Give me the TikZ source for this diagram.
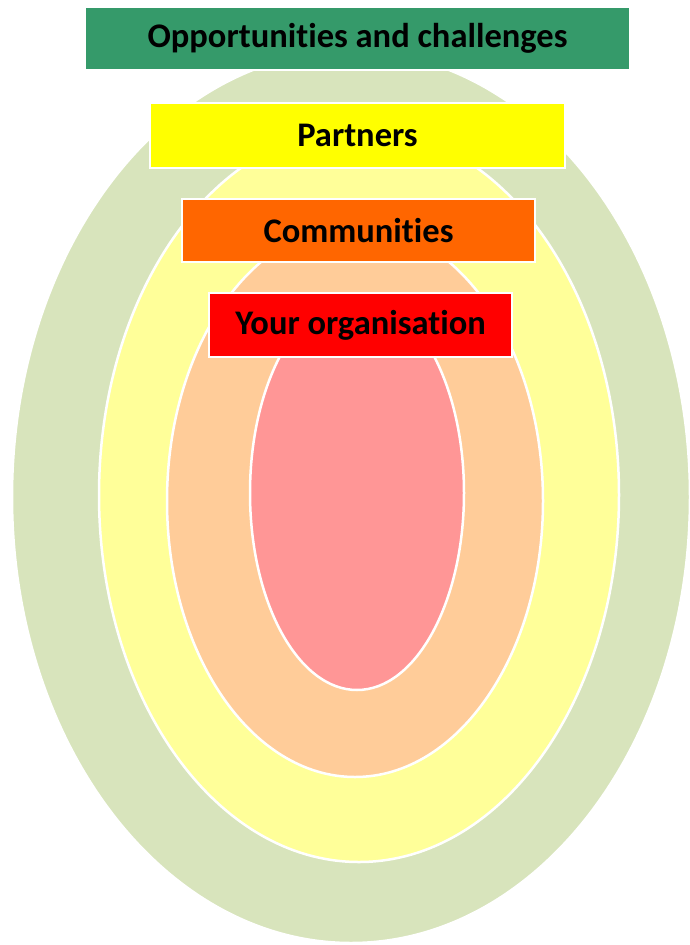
\documentclass[tikz,border=0pt]{standalone}
\usepackage{fontspec}
\setmainfont{Carlito}[Ligatures={NoCommon}]
\usetikzlibrary{shapes.geometric}
\definecolor{titlegreen}{HTML}{359A6A}
\definecolor{ringgreen}{HTML}{D8E4BC}
\definecolor{ringyellow}{HTML}{FFFF99}
\definecolor{ringorange}{HTML}{FFCC99}
\definecolor{ringpink}{HTML}{FF9696}
\definecolor{boxyellow}{HTML}{FFFF00}
\definecolor{boxorange}{HTML}{FF6600}
\definecolor{boxred}{HTML}{FF0000}
\tikzset{
  ring/.style={ellipse, draw=white, line width=2.5pt, inner sep=0pt},
  labelbox/.style={rectangle, draw=white, line width=2pt, inner sep=0pt,
    font=\fontsize{34.5}{40}\selectfont\bfseries, text=black}
}
\begin{document}
\begin{tikzpicture}[x=1pt,y=-1pt]
\useasboundingbox (0,0) rectangle (689,945);
\fill[white] (0,0) rectangle (689,945);
\node[ring, fill=ringgreen, minimum width=678pt, minimum height=892pt] (green) at (351,497) {};
\node[labelbox, fill=titlegreen, minimum width=545pt, minimum height=63pt] (title) at (357.5,38.5) {Opportunities and challenges};
\node[ring, fill=ringyellow, minimum width=520pt, minimum height=734pt] (yellow) at (359,495) {};
\node[labelbox, fill=boxyellow, minimum width=415pt, minimum height=65pt] (partners) at (357.5,135.5) {Partners};
\node[ring, fill=ringorange, minimum width=376pt, minimum height=552pt] (orange) at (355,501) {};
\node[labelbox, fill=boxorange, minimum width=353pt, minimum height=63pt] (communities) at (358.5,230.5) {Communities};
\node[ring, fill=ringpink, minimum width=214pt, minimum height=394pt] (pink) at (357,493) {};
\node[labelbox, fill=boxred, minimum width=303pt, minimum height=64pt] (org) at (360.5,325) {Your organisation};
\end{tikzpicture}
\end{document}
